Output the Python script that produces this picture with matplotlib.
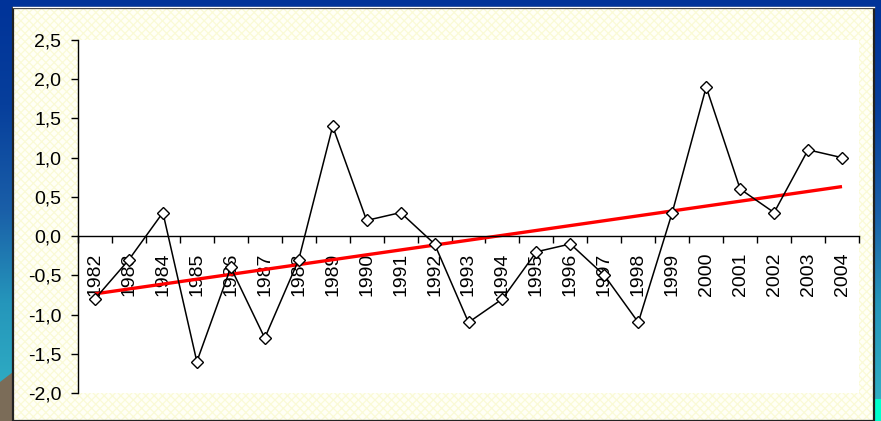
#!/usr/bin/env python3
"""Serie de anomalias 1982-2004 con tendencia lineal, estilo diapositiva."""

import matplotlib

matplotlib.use("Agg")

import matplotlib.pyplot as plt
import numpy as np
from matplotlib.colors import LinearSegmentedColormap
from matplotlib.patches import Polygon, Rectangle

years = list(range(1982, 2005))
anomalies = [-0.8, -0.3, 0.3, -1.6, -0.4, -1.3, -0.3, 1.4, 0.2, 0.3, -0.1,
             -1.1, -0.8, -0.2, -0.1, -0.5, -1.1, 0.3, 1.9, 0.6, 0.3, 1.1, 1.0]
y_ticks = [-2.0, -1.5, -1.0, -0.5, 0.0, 0.5, 1.0, 1.5, 2.0, 2.5]

W, H = 881, 421
plt.rcParams["font.family"] = ["Liberation Sans", "DejaVu Sans"]

fig = plt.figure(figsize=(W / 100, H / 100), dpi=100)

# fondo de la diapositiva
bg = fig.add_axes([0, 0, 1, 1])
bg.set_xlim(0, W)
bg.set_ylim(H, 0)
bg.axis("off")
grad_cmap = LinearSegmentedColormap.from_list(
    "slide",
    [(0.0, "#003399"), (0.25, "#073f9c"), (0.5, "#1a5fa8"),
     (0.72, "#2596bb"), (1.0, "#32b4c6")],
)
grad = np.linspace(0, 1, 256).reshape(-1, 1)
bg.imshow(grad, cmap=grad_cmap, aspect="auto", extent=[0, W, H, 0], zorder=0)
bg.add_patch(Polygon([[0, 382], [13, 372], [13, H], [0, H]],
                     closed=True, facecolor="#7b6c58", edgecolor="none", zorder=1))
bg.add_patch(Rectangle((874, 399), 7, 22, facecolor="#00ffcc",
                       edgecolor="none", zorder=1))

# panel del grafico
plt.rcParams["hatch.linewidth"] = 0.9
bg.add_patch(Rectangle((13, 8), 861, H - 8, facecolor="#fffff6",
                       edgecolor="#fafad6", hatch="xxxx", linewidth=0, zorder=2))
bg.add_patch(Rectangle((13, 8), 861, H - 8, facecolor="none",
                       edgecolor="#222222", linewidth=1.6, zorder=3))
bg.plot([13, 874], [6.5, 6.5], color="white", linewidth=1.0, zorder=3)

# area de trazado
x0, x1, ytop, ybot = 78, 859, 40, 393
ax = fig.add_axes([x0 / W, 1 - ybot / H, (x1 - x0) / W, (ybot - ytop) / H])
ax.set_facecolor("white")

x = np.arange(len(years))
coef = np.polyfit(x, anomalies, 1)
trend = np.polyval(coef, x)

ax.plot(x, trend, color="#ff0000", linewidth=2.4, zorder=2.5, solid_capstyle="butt")
ax.plot(x, anomalies, color="black", linewidth=1.1, marker="D", markersize=6.5,
        markerfacecolor="white", markeredgecolor="black", markeredgewidth=1.0,
        zorder=3)

ax.set_xlim(-0.5, len(years) - 0.5)
ax.set_ylim(-2.0, 2.5)
ax.set_yticks(y_ticks, labels=[f"{v:.1f}".replace(".", ",") for v in y_ticks])
ax.set_xticks(x, labels=[str(y) for y in years])
ax.set_xticks(np.arange(-0.5, len(years), 1), minor=True)

ax.spines["top"].set_visible(False)
ax.spines["right"].set_visible(False)
ax.spines["bottom"].set_position(("data", 0))
for spine in ("left", "bottom"):
    ax.spines[spine].set_color("black")
    ax.spines[spine].set_linewidth(1.0)

ax.tick_params(axis="y", direction="out", length=5, width=1.0, pad=7,
               labelsize=14, colors="black")
ax.tick_params(axis="x", which="major", length=0, pad=12, labelsize=14,
               labelrotation=90)
ax.tick_params(axis="x", which="minor", direction="out", length=5, width=1.0)
plt.setp(ax.get_xticklabels(), va="top", ha="center")

fig.savefig("out.png", dpi=100, facecolor="#003399")
